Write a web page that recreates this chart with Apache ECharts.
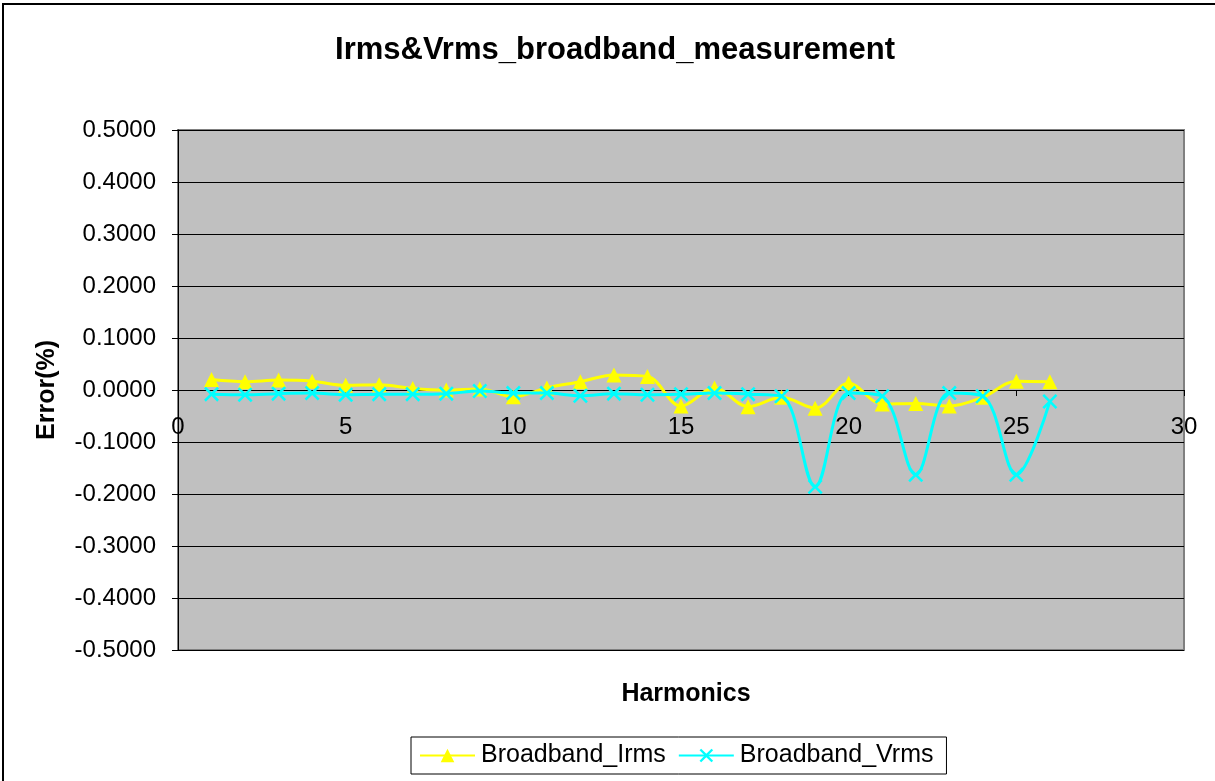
<!DOCTYPE html>
<html>
<head>
<meta charset="utf-8">
<title>Irms&amp;Vrms_broadband_measurement</title>
<script src="https://cdn.jsdelivr.net/npm/echarts@6/dist/echarts.min.js"></script>
<style>
  html, body { margin: 0; padding: 0; background: #fff; }
  #chart { width: 1215px; height: 781px; }
</style>
</head>
<body>
<div id="chart"></div>
<script>
// harmonic order on the x axis
const harmonics = [1, 2, 3, 4, 5, 6, 7, 8, 9, 10, 11, 12, 13, 14, 15, 16, 17, 18, 19, 20, 21, 22, 23, 24, 25, 26];
// error in %
const irmsError = [0.020, 0.016, 0.019, 0.017, 0.009, 0.010, 0.003, 0.000, 0.002, -0.013, 0.004, 0.016, 0.029, 0.026,
    -0.031, 0.004, -0.032, -0.014, -0.035, 0.013, -0.027, -0.026, -0.031, -0.014, 0.017, 0.016];
const vrmsError = [-0.008, -0.009, -0.007, -0.006, -0.009, -0.008, -0.008, -0.007, -0.002, -0.006, -0.006, -0.011, -0.007, -0.009,
    -0.008, -0.006, -0.008, -0.012, -0.186, -0.006, -0.012, -0.163, -0.006, -0.012, -0.163, -0.022];
const seriesNames = ['Broadband_Irms', 'Broadband_Vrms'];

const FONT = '"Liberation Sans", Arial, sans-serif';
const crossSymbol = 'path://M0,1.2L1.2,0L5,3.8L8.8,0L10,1.2L6.2,5L10,8.8L8.8,10L5,6.2L1.2,10L0,8.8L3.8,5Z';

const toPairs = (ys) => harmonics.map((x, i) => [x, ys[i]]);

const chart = echarts.init(document.getElementById('chart'));

chart.setOption({
    backgroundColor: '#ffffff',
    animation: false,
    textStyle: { fontFamily: FONT },
    title: [
        {
            text: 'Irms&Vrms_broadband_measurement',
            left: 610, top: 30, textAlign: 'center',
            textStyle: { fontFamily: FONT, fontSize: 31, fontWeight: 'bold', color: '#000' }
        },
        {
            text: 'Harmonics',
            left: 681, top: 677, textAlign: 'center',
            textStyle: { fontFamily: FONT, fontSize: 25, fontWeight: 'bold', color: '#000' }
        }
    ],
    graphic: [
        {
            type: 'rect', silent: true, z: 100,
            shape: { x: 3, y: 4, width: 1400, height: 1000 },
            style: { fill: 'none', stroke: '#000', lineWidth: 2 }
        }
    ],
    grid: {
        left: 178, top: 130, right: 31, bottom: 131,
        show: true, backgroundColor: '#c0c0c0', borderColor: '#808080', borderWidth: 2
    },
    legend: {
        data: seriesNames,
        left: 411, top: 737,
        orient: 'horizontal',
        borderColor: '#000', borderWidth: 1,
        backgroundColor: '#fff',
        padding: [6, 13, 6, 8],
        itemGap: 12, itemWidth: 55, itemHeight: 17,
        textStyle: { fontFamily: FONT, fontSize: 25, color: '#000', padding: [0, 0, 0, 1] }
    },
    xAxis: {
        type: 'value', min: 0, max: 30, interval: 5,
        // axis sits on the zero line, labels just under it
        position: 'bottom', offset: -260,
        axisLine: { onZero: false, lineStyle: { color: '#000', width: 1 } },
        axisTick: { show: true, length: 6, inside: false, lineStyle: { color: '#000' } },
        axisLabel: { fontFamily: FONT, fontSize: 24, color: '#000', margin: 25 },
        splitLine: { show: false }
    },
    yAxis: {
        type: 'value', min: -0.5, max: 0.5, interval: 0.1,
        name: 'Error(%)', nameLocation: 'middle', nameGap: 118,
        nameTextStyle: { fontFamily: FONT, fontSize: 25, fontWeight: 'bold', color: '#000' },
        axisLine: { show: true, onZero: false, lineStyle: { color: '#000', width: 1 } },
        axisTick: { show: true, length: 6, lineStyle: { color: '#000' } },
        axisLabel: { fontFamily: FONT, fontSize: 24, color: '#000', margin: 22, formatter: (v) => v.toFixed(4) },
        splitLine: { show: true, lineStyle: { color: '#000', width: 1 } }
    },
    series: [
        {
            name: seriesNames[0], type: 'line', smooth: 0.35,
            data: toPairs(irmsError),
            symbol: 'triangle', symbolSize: 15,
            lineStyle: { color: '#ffff00', width: 3 },
            itemStyle: { color: '#ffff00' },
            z: 3
        },
        {
            name: seriesNames[1], type: 'line', smooth: 0.35,
            data: toPairs(vrmsError),
            symbol: crossSymbol, symbolSize: 15,
            lineStyle: { color: '#00ffff', width: 3 },
            itemStyle: { color: '#00ffff' },
            z: 4
        }
    ]
});
</script>
</body>
</html>
